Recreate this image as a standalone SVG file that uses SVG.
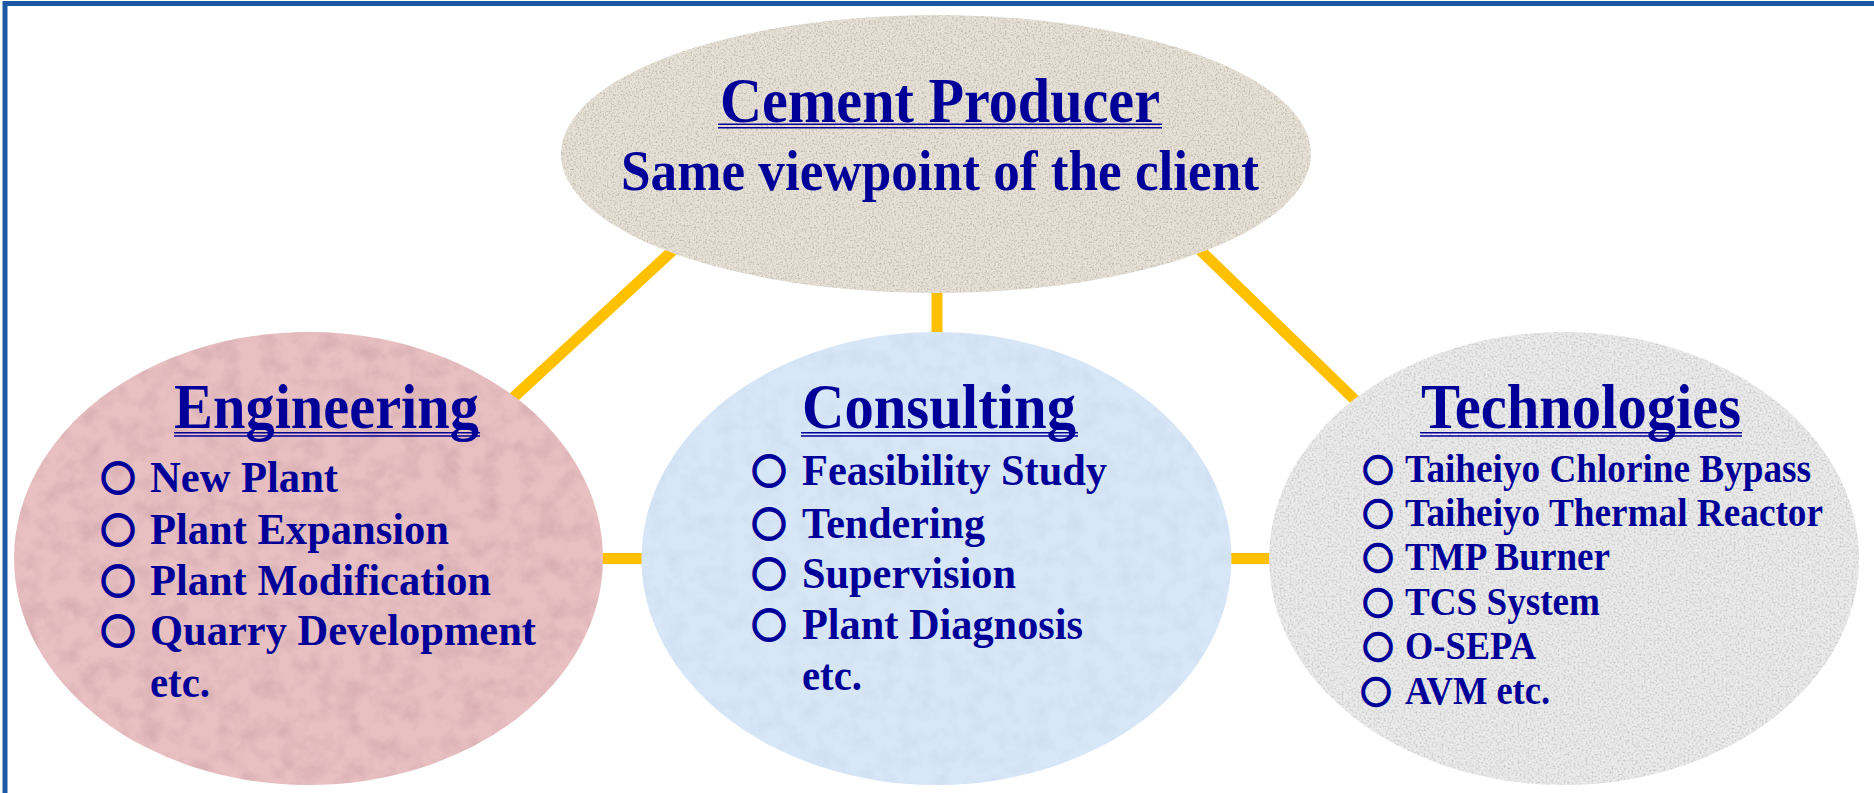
<svg xmlns="http://www.w3.org/2000/svg" width="1874" height="793" viewBox="0 0 1874 793">
  <defs>
    <style>
      .frame { fill: none; stroke: #1C58A4; stroke-width: 5; }
      .link { stroke: #FFC000; stroke-width: 11; stroke-linecap: butt; fill: none; }
      .ttl { font-family: "Liberation Serif", "Times New Roman", serif; font-weight: 700; fill: #000099; text-anchor: middle; }
      .hd { font-family: "Liberation Serif", "Times New Roman", serif; font-weight: 700; font-size: 64px; fill: #000099; text-anchor: middle; }
      .it { font-family: "Liberation Serif", "Times New Roman", serif; font-weight: 700; font-size: 45px; fill: #000099; }
      .it-s { font-size: 40px; }
      .blt { font-family: "Noto Sans CJK JP", "DejaVu Sans", sans-serif; font-weight: 700; font-size: 34px; fill: #000099; stroke: #000099; stroke-width: 2.8; text-anchor: middle; }
      .blt-s { font-size: 30px; stroke-width: 2.6; }
      .ul { stroke: #000099; stroke-width: 1.6; }
    </style>
    <!-- stone-like speckle textures for the ellipse fills -->
    <filter id="tex-beige" x="0" y="0" width="100%" height="100%" color-interpolation-filters="sRGB">
      <feTurbulence type="fractalNoise" baseFrequency="0.55" numOctaves="3" seed="4" result="n"/>
      <feColorMatrix in="n" type="matrix" values="0 0 0 0 0.50  0 0 0 0 0.46  0 0 0 0 0.40  1.0 0 0 0 -0.47" result="s"/>
      <feComposite in="s" in2="SourceAlpha" operator="in" result="c"/>
      <feMerge><feMergeNode in="SourceGraphic"/><feMergeNode in="c"/></feMerge>
    </filter>
    <filter id="tex-pink" x="0" y="0" width="100%" height="100%" color-interpolation-filters="sRGB">
      <feTurbulence type="fractalNoise" baseFrequency="0.05" numOctaves="4" seed="11" result="n"/>
      <feColorMatrix in="n" type="matrix" values="0 0 0 0 0.72  0 0 0 0 0.55  0 0 0 0 0.58  0.7 0 0 0 -0.28" result="s"/>
      <feComposite in="s" in2="SourceAlpha" operator="in" result="c"/>
      <feMerge><feMergeNode in="SourceGraphic"/><feMergeNode in="c"/></feMerge>
    </filter>
    <filter id="tex-blue" x="0" y="0" width="100%" height="100%" color-interpolation-filters="sRGB">
      <feTurbulence type="fractalNoise" baseFrequency="0.06" numOctaves="4" seed="23" result="n"/>
      <feColorMatrix in="n" type="matrix" values="0 0 0 0 0.70  0 0 0 0 0.78  0 0 0 0 0.90  0.5 0 0 0 -0.21" result="s"/>
      <feComposite in="s" in2="SourceAlpha" operator="in" result="c"/>
      <feMerge><feMergeNode in="SourceGraphic"/><feMergeNode in="c"/></feMerge>
    </filter>
    <filter id="tex-gray" x="0" y="0" width="100%" height="100%" color-interpolation-filters="sRGB">
      <feTurbulence type="fractalNoise" baseFrequency="0.5" numOctaves="3" seed="31" result="n"/>
      <feColorMatrix in="n" type="matrix" values="0 0 0 0 0.64  0 0 0 0 0.64  0 0 0 0 0.64  1.3 0 0 0 -0.58" result="s"/>
      <feComposite in="s" in2="SourceAlpha" operator="in" result="c"/>
      <feMerge><feMergeNode in="SourceGraphic"/><feMergeNode in="c"/></feMerge>
    </filter>
  </defs>

  <rect width="1874" height="793" fill="#FFFFFF"/>
  <!-- outer frame (only top and left edges fall inside the canvas) -->
  <rect class="frame" x="5" y="3.5" width="1900" height="850"/>

  <g id="connectors">
    <line class="link" x1="692" y1="232.7" x2="492" y2="417.3"/>
    <line class="link" x1="1178.4" y1="229.1" x2="1378.6" y2="422.9"/>
    <line class="link" x1="937" y1="280" x2="937" y2="345"/>
    <line class="link" x1="590" y1="558.5" x2="655" y2="558.5"/>
    <line class="link" x1="1220" y1="558.5" x2="1282" y2="558.5"/>
  </g>

  <g id="node-cement-producer">
    <ellipse cx="936" cy="154" rx="375" ry="139" fill="#E6E0D6" filter="url(#tex-beige)"/>
    <text class="ttl" x="940" y="122" font-size="63" textLength="440" lengthAdjust="spacingAndGlyphs">Cement Producer</text>
    <line class="ul" x1="718" y1="124.2" x2="1162" y2="124.2"/>
    <line class="ul" x1="718" y1="127.8" x2="1162" y2="127.8"/>
    <text class="ttl" x="940" y="190" font-size="57" textLength="638" lengthAdjust="spacingAndGlyphs">Same viewpoint of the client</text>
  </g>

  <g id="node-engineering">
    <ellipse cx="308.5" cy="558.5" rx="294.5" ry="226.5" fill="#E9C0C2" filter="url(#tex-pink)"/>
    <text class="hd" x="326.5" y="428" textLength="305" lengthAdjust="spacingAndGlyphs">Engineering</text>
    <line class="ul" x1="174" y1="432.8" x2="480" y2="432.8"/>
    <line class="ul" x1="174" y1="436" x2="480" y2="436"/>
    <text class="blt" x="118" y="491">○</text>
    <text class="it" x="150" y="492" textLength="188" lengthAdjust="spacingAndGlyphs">New Plant</text>
    <text class="blt" x="118" y="543">○</text>
    <text class="it" x="150" y="544" textLength="299" lengthAdjust="spacingAndGlyphs">Plant Expansion</text>
    <text class="blt" x="118" y="594">○</text>
    <text class="it" x="150" y="595" textLength="341" lengthAdjust="spacingAndGlyphs">Plant Modification</text>
    <text class="blt" x="118" y="644">○</text>
    <text class="it" x="150" y="645" textLength="386" lengthAdjust="spacingAndGlyphs">Quarry Development</text>
    <text class="it" x="150" y="697" textLength="60" lengthAdjust="spacingAndGlyphs">etc.</text>
  </g>

  <g id="node-consulting">
    <ellipse cx="936.5" cy="558.5" rx="295" ry="226.5" fill="#D8E7F7" filter="url(#tex-blue)"/>
    <text class="hd" x="939" y="428" textLength="274" lengthAdjust="spacingAndGlyphs">Consulting</text>
    <line class="ul" x1="801" y1="432.8" x2="1078" y2="432.8"/>
    <line class="ul" x1="801" y1="436" x2="1078" y2="436"/>
    <text class="blt" x="769" y="484">○</text>
    <text class="it" x="802" y="485" textLength="305" lengthAdjust="spacingAndGlyphs">Feasibility Study</text>
    <text class="blt" x="769" y="537">○</text>
    <text class="it" x="802" y="538" textLength="183" lengthAdjust="spacingAndGlyphs">Tendering</text>
    <text class="blt" x="769" y="587">○</text>
    <text class="it" x="802" y="588" textLength="214" lengthAdjust="spacingAndGlyphs">Supervision</text>
    <text class="blt" x="769" y="638">○</text>
    <text class="it" x="802" y="639" textLength="281" lengthAdjust="spacingAndGlyphs">Plant Diagnosis</text>
    <text class="it" x="802" y="690" textLength="60" lengthAdjust="spacingAndGlyphs">etc.</text>
  </g>

  <g id="node-technologies">
    <ellipse cx="1564" cy="558.5" rx="295" ry="226.5" fill="#EBEBEB" filter="url(#tex-gray)"/>
    <text class="hd" x="1581" y="428" textLength="320" lengthAdjust="spacingAndGlyphs">Technologies</text>
    <line class="ul" x1="1420" y1="432.8" x2="1742" y2="432.8"/>
    <line class="ul" x1="1420" y1="436" x2="1742" y2="436"/>
    <text class="blt blt-s" x="1378" y="481">○</text>
    <text class="it it-s" x="1405" y="482" textLength="406" lengthAdjust="spacingAndGlyphs">Taiheiyo Chlorine Bypass</text>
    <text class="blt blt-s" x="1378" y="525">○</text>
    <text class="it it-s" x="1405" y="526" textLength="418" lengthAdjust="spacingAndGlyphs">Taiheiyo Thermal Reactor</text>
    <text class="blt blt-s" x="1378" y="569">○</text>
    <text class="it it-s" x="1405" y="570" textLength="205" lengthAdjust="spacingAndGlyphs">TMP Burner</text>
    <text class="blt blt-s" x="1378" y="614">○</text>
    <text class="it it-s" x="1405" y="615" textLength="195" lengthAdjust="spacingAndGlyphs">TCS System</text>
    <text class="blt blt-s" x="1378" y="658">○</text>
    <text class="it it-s" x="1405" y="659" textLength="131" lengthAdjust="spacingAndGlyphs">O-SEPA</text>
    <text class="blt blt-s" x="1376" y="703">○</text>
    <text class="it it-s" x="1405" y="704" textLength="145" lengthAdjust="spacingAndGlyphs">AVM etc.</text>
  </g>
</svg>
